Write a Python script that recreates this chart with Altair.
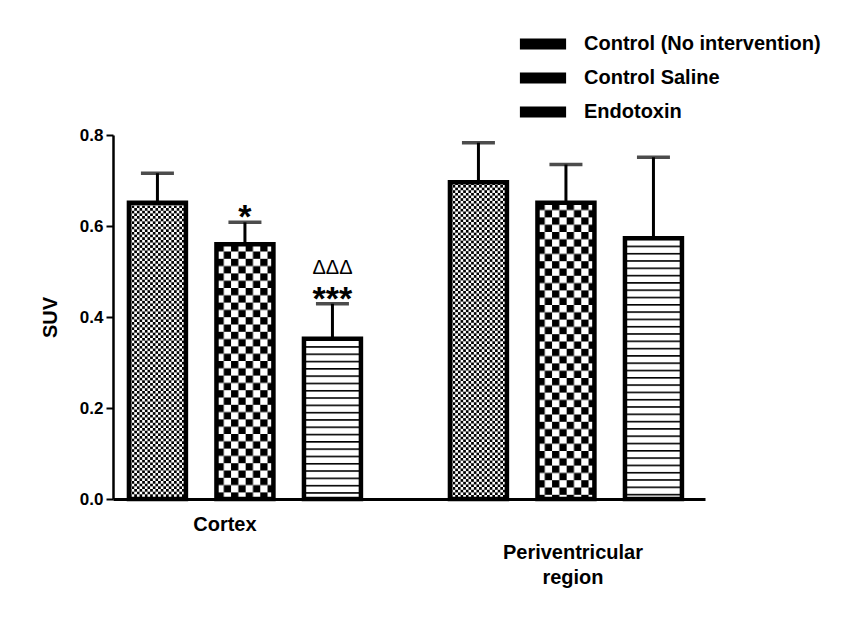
import altair as alt
import pandas as pd
from urllib.parse import quote

# ---------------- data ----------------
regions = ["Cortex", "Periventricular region"]
region_labels = ["Cortex", "Periventricular\nregion"]
groups = ["Control (No intervention)", "Control Saline", "Endotoxin"]

cortex_mean = [0.651, 0.560, 0.352]
cortex_sem = [0.065, 0.048, 0.077]
peri_mean = [0.696, 0.651, 0.573]
peri_sem = [0.087, 0.084, 0.178]

cortex_sig = ["", "*", "***"]
cortex_delta = ["", "", "ΔΔΔ"]
peri_sig = ["", "", ""]
peri_delta = ["", "", ""]

y_ticks = [0.0, 0.2, 0.4, 0.6, 0.8]

rows = []
for region, means, sems, sigs, deltas in [
    (regions[0], cortex_mean, cortex_sem, cortex_sig, cortex_delta),
    (regions[1], peri_mean, peri_sem, peri_sig, peri_delta),
]:
    for g, m, s, sg, d in zip(groups, means, sems, sigs, deltas):
        rows.append({"region": region, "group": g, "mean": m, "upper": m + s,
                     "sig": sg, "delta": d})
df = pd.DataFrame(rows)
label_df = pd.DataFrame({"region": regions, "label": region_labels})

# ---------------- fill patterns (as small SVG images) ----------------
def pattern_uri(body, pw, ph):
    svg = ("<svg xmlns='http://www.w3.org/2000/svg' width='100%' height='100%'>"
           f"<defs><pattern id='p' patternUnits='userSpaceOnUse' width='{pw}' height='{ph}'>"
           f"<rect width='{pw}' height='{ph}' fill='white'/>{body}</pattern></defs>"
           "<rect width='100%' height='100%' fill='url(#p)'/></svg>")
    return "data:image/svg+xml;charset=utf-8," + quote(svg)

def checker(c):
    body = (f"<rect width='{c}' height='{c}' fill='black'/>"
            f"<rect x='{c}' y='{c}' width='{c}' height='{c}' fill='black'/>")
    return pattern_uri(body, 2 * c, 2 * c)

patterns = [
    checker(2.65),
    checker(7.3),
    pattern_uri("<rect width='10' height='1.6' fill='black'/>", 10, 7.3),
]

FONT = "Liberation Sans"

X = alt.X("region:N", sort=regions,
          scale=alt.Scale(domain=regions, paddingInner=0.1822, paddingOuter=0.0132, align=0.08),
          axis=alt.Axis(labels=False, ticks=False, title=None, domainColor="black",
                        domainWidth=3))
XO = alt.XOffset("group:N", sort=groups,
                 scale=alt.Scale(domain=groups, paddingInner=0.349, paddingOuter=0.1745))

Y_SCALE = alt.Scale(domain=[0, 0.8], nice=False, zero=True)
Y_AXIS = alt.Axis(values=y_ticks, format=".1f", grid=False, title="SUV")


def yq(field):
    return alt.Y(field, scale=Y_SCALE, axis=Y_AXIS, title="SUV")


base = alt.Chart(df)

image_layers = [
    base.transform_filter(alt.datum.group == g)
    .mark_image(aspect=False)
    .encode(x=X, xOffset=XO, y=yq("mean:Q"), y2=alt.datum(0), url=alt.value(uri))
    for g, uri in zip(groups, patterns)
]

outline = base.mark_bar(fillOpacity=0, stroke="black", strokeWidth=4.5).encode(
    x=X, xOffset=XO, y=yq("mean:Q"))

stem = base.mark_rule(color="black", strokeWidth=3).encode(
    x=X, xOffset=XO, y=yq("mean:Q"), y2="upper:Q")

cap = base.mark_tick(color="black", thickness=3.5, size=33, orient="horizontal").encode(
    x=X, xOffset=XO, y=yq("upper:Q"))

stars = base.mark_text(font=FONT, fontSize=34, fontWeight="bold", color="black",
                       baseline="alphabetic", dy=6).encode(
    x=X, xOffset=XO, y=yq("upper:Q"), text="sig:N")

deltas = base.mark_text(font=FONT, fontSize=20, color="black",
                        baseline="alphabetic", dy=-30).encode(
    x=X, xOffset=XO, y=yq("upper:Q"), text="delta:N")

legend_layer = base.mark_bar(strokeWidth=0).encode(
    x=X, xOffset=XO, y=alt.datum(0, scale=Y_SCALE, axis=Y_AXIS, title="SUV"),
    fill=alt.Fill("group:N", sort=groups,
                  scale=alt.Scale(domain=groups, range=["black"] * len(groups)),
                  legend=alt.Legend(orient="none", legendX=420, legendY=-101,
                                    title=None, padding=0,
                                    symbolType="M-3.3,-0.8L3.3,-0.8L3.3,0.8L-3.3,0.8Z",
                                    symbolSize=196, symbolStrokeWidth=0,
                                    labelFont=FONT, labelFontSize=20,
                                    labelFontWeight="bold", labelColor="black",
                                    labelOffset=31, labelLimit=400, rowPadding=14)))

lbl_base = alt.Chart(label_df)
cortex_lbl = lbl_base.transform_filter(alt.datum.region == regions[0]).mark_text(
    font=FONT, fontSize=20, fontWeight="bold", color="black",
    baseline="middle", dx=-20).encode(x=X, y=alt.value(390), text="label:N")
peri_lbl = lbl_base.transform_filter(alt.datum.region == regions[1]).mark_text(
    font=FONT, fontSize=20, fontWeight="bold", color="black",
    baseline="top", lineBreak="\n", lineHeight=25, dx=7).encode(
    x=X, y=alt.value(408), text="label:N")

chart = alt.layer(
    *image_layers, outline, stem, cap, stars, deltas, legend_layer, cortex_lbl, peri_lbl
).properties(
    width=592, height=364,
    autosize=alt.AutoSizeParams(type="none"),
    padding={"left": 105, "top": 127, "right": 139, "bottom": 111},
    background="white",
).configure_view(strokeWidth=0).configure_axisY(
    domainColor="black", domainWidth=2.5,
    tickColor="black", tickWidth=2, tickSize=7,
    labelFont=FONT, labelFontSize=17, labelFontWeight="bold",
    labelColor="black", labelPadding=3,
    titleFont=FONT, titleFontSize=20, titleFontWeight="bold",
    titleColor="black", titlePadding=19,
)

chart.save("out.html", embed_options={"renderer": "svg", "actions": False})
